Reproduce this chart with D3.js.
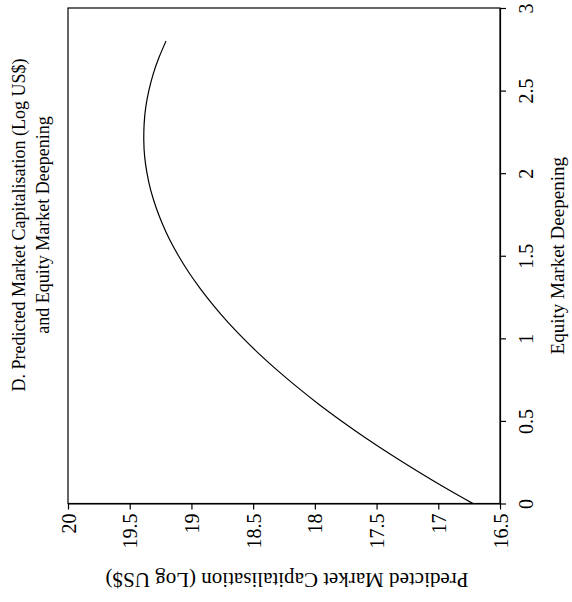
<!DOCTYPE html>
<html>
<head>
<meta charset="utf-8">
<script src="https://cdn.jsdelivr.net/npm/d3@7"></script>
<style>
  html, body { margin: 0; padding: 0; background: #fff; }
  svg { display: block; }
  text { font-family: "Liberation Serif", "DejaVu Serif", serif; fill: #000; }
</style>
</head>
<body>
<svg id="chart" width="572" height="602"></svg>
<script>
// Data read from the (rotated) reference chart
const deepening = [0, 0.1, 0.2, 0.3, 0.4, 0.5, 0.6, 0.7, 0.8, 0.9, 1.0, 1.1, 1.2, 1.3, 1.4,
                   1.5, 1.6, 1.7, 1.8, 1.9, 2.0, 2.1, 2.2, 2.3, 2.4, 2.5, 2.6, 2.7, 2.8];
const predictedCap = [16.720, 16.955, 17.178, 17.391, 17.594, 17.785, 17.966, 18.135, 18.294,
                      18.443, 18.580, 18.707, 18.822, 18.927, 19.022, 19.105, 19.178, 19.239,
                      19.290, 19.331, 19.360, 19.379, 19.386, 19.383, 19.370, 19.345, 19.310,
                      19.263, 19.206];
const deepeningTicks = [0, 0.5, 1, 1.5, 2, 2.5, 3];
const capTicks = [20, 19.5, 19, 18.5, 18, 17.5, 17, 16.5];
const titleLines = ["D. Predicted Market Capitalisation (Log US$)", "and Equity Market Deepening"];
const xTitle = "Equity Market Deepening";
const yTitle = "Predicted Market Capitalisation (Log US$)";

const svg = d3.select("#chart");
const L = 68, R = 500, T = 8, B = 503.5;

// Chart is drawn rotated: deepening runs bottom->top, value runs right->left
const yDeep = d3.scaleLinear().domain([0, 3]).range([B, T]);
const xCap = d3.scaleLinear().domain([16.5, 20]).range([R, L]);

// plot frame
svg.append("rect")
  .attr("x", L).attr("y", T).attr("width", R - L).attr("height", B - T)
  .attr("fill", "none").attr("stroke", "#000").attr("stroke-width", 1.2);

// right axis (Equity Market Deepening)
const gR = svg.append("g").attr("transform", `translate(${R},0)`)
  .call(d3.axisRight(yDeep).tickValues(deepeningTicks).tickSize(6).tickSizeOuter(0)
        .tickFormat(d => String(d)));
gR.select(".domain").attr("stroke-width", 1.2);
gR.selectAll(".tick line").attr("stroke-width", 1.2);
gR.selectAll(".tick text")
  .attr("x", null).attr("dy", null)
  .attr("transform", "translate(33,0) rotate(-90)")
  .attr("text-anchor", "middle")
  .style("font-family", '"Liberation Serif", serif')
  .style("font-size", "20px");

// bottom axis (Predicted Market Capitalisation)
const gB = svg.append("g").attr("transform", `translate(0,${B})`)
  .call(d3.axisBottom(xCap).tickValues(capTicks).tickSize(6).tickSizeOuter(0)
        .tickFormat(d => String(d)));
gB.select(".domain").attr("stroke-width", 1.2);
gB.selectAll(".tick line").attr("stroke-width", 1.2);
gB.selectAll(".tick text")
  .attr("y", null).attr("dy", null)
  .attr("transform", "translate(7,10) rotate(-90)")
  .attr("text-anchor", "end")
  .style("font-family", '"Liberation Serif", serif')
  .style("font-size", "20px");

// curve
const line = d3.line()
  .x((d, i) => xCap(predictedCap[i]))
  .y(d => yDeep(d))
  .curve(d3.curveNatural);
svg.append("path")
  .datum(deepening)
  .attr("d", line)
  .attr("fill", "none")
  .attr("stroke", "#000")
  .attr("stroke-width", 1.2);

// right axis title
svg.append("text")
  .attr("transform", `translate(564,${(T + B) / 2}) rotate(-90)`)
  .attr("text-anchor", "middle")
  .style("font-size", "19px")
  .text(xTitle);

// bottom axis title (upside down)
svg.append("text")
  .attr("transform", `translate(287,573) rotate(180)`)
  .attr("text-anchor", "middle")
  .style("font-size", "21px")
  .text(yTitle);

// chart title (left, rotated)
titleLines.forEach((t, i) => {
  svg.append("text")
    .attr("transform", `translate(${25 + i * 24},225) rotate(-90)`)
    .attr("text-anchor", "middle")
    .style("font-size", "18px")
    .text(t);
});
</script>
</body>
</html>
